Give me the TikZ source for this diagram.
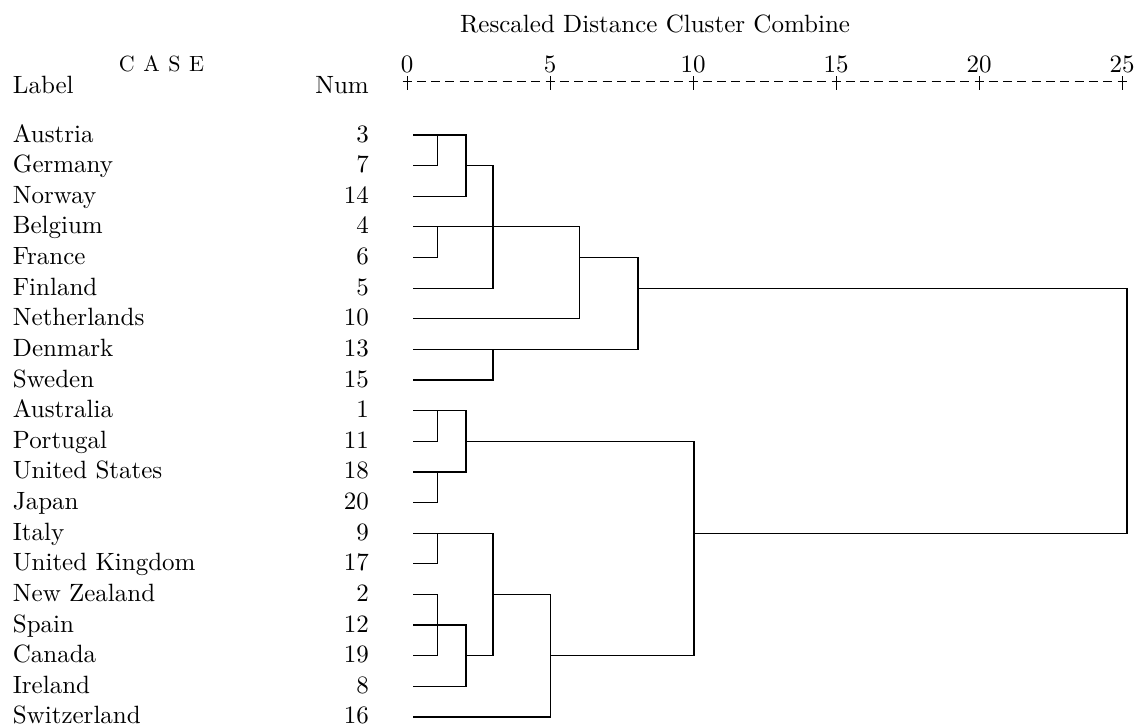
\documentclass[tikz,border=0pt]{standalone}
\usepackage{fontspec}
\setmainfont{lmroman10-regular.otf}
\usetikzlibrary{calc}
\begin{document}
\begin{tikzpicture}[x=1pt,y=-1pt,
  txt/.style={inner sep=0pt, font=\fontsize{25}{30}\selectfont},
  lbl/.style={txt, anchor=base west},
  num/.style={txt, anchor=base east},
  link/.style={line width=1.2pt, line join=miter},
  axisline/.style={line width=0.9pt},
]
\useasboundingbox (0,0) rectangle (1136,726);

% heading
\node[txt, anchor=base] (title) at (655,32) {Rescaled Distance Cluster Combine};
\node[inner sep=0pt, anchor=base, font=\fontsize{22}{26}\selectfont] (case) at (161.5,71)
  {\spaceskip=8.5pt C A S E};
\node[lbl] (hlabel) at (12.7,93) {Label};
\node[num] (hnum) at (369,93) {Num};

% distance scale
\foreach \d in {0,5,...,25} {
  \coordinate (t\d) at ({407+28.6*\d},81);
  \node[txt, anchor=base] (ax\d) at ({407+28.6*\d},72) {\d};
  \draw[axisline] ($(t\d)+(0,-5)$) -- ($(t\d)+(0,9)$);
}
\draw[axisline, dash pattern=on 9pt off 5.3pt] ($(t0)+(-4.5,0)$) -- ($(t25)+(4.5,0)$);

% cases: label, number, and start of each leaf line
\foreach \name/\num [count=\i from 0] in {Austria/3, Germany/7, Norway/14, Belgium/4,
    France/6, Finland/5, Netherlands/10, Denmark/13, Sweden/15, Australia/1,
    Portugal/11, United States/18, Japan/20, Italy/9, United Kingdom/17,
    New Zealand/2, Spain/12, Canada/19, Ireland/8, Switzerland/16} {
  \node[lbl] (lab\i) at (12.7,{142+30.63*\i}) {\name};
  \node[num] (num\i) at (369,{142+30.63*\i}) {\num};
  \coordinate (r\i) at (413,{135+30.63*\i});
}

% merge distances (x positions)
\coordinate (j1) at (437.5,0);
\coordinate (j2) at (466,0);
\coordinate (j3) at (493,0);
\coordinate (j5) at (550.7,0);
\coordinate (j6) at (579.5,0);
\coordinate (j8) at (638,0);
\coordinate (j10) at (694,0);
\coordinate (j25) at (1127,0);

% upper group
\draw[link] (r0) -- (r0-|j2) -- (r2-|j2) -- (r2);
\draw[link] (r0-|j1) -- (r1-|j1) -- (r1);
\draw[link] (r1-|j2) -- (r1-|j3) -- (r5-|j3) -- (r5);
\draw[link] (r3) -- (r3-|j6) -- (r6-|j6) -- (r6);
\draw[link] (r3-|j1) -- (r4-|j1) -- (r4);
\draw[link] (r4-|j6) -- (r4-|j8) -- (r7-|j8) -- (r7);
\draw[link] (r7-|j3) -- (r8-|j3) -- (r8);

% lower group
\draw[link] (r9) -- (r9-|j2) -- (r11-|j2) -- (r11);
\draw[link] (r9-|j1) -- (r10-|j1) -- (r10);
\draw[link] (r11-|j1) -- (r12-|j1) -- (r12);
\draw[link] (r13) -- (r13-|j3) -- (r17-|j3) -- (r17-|j2);
\draw[link] (r13-|j1) -- (r14-|j1) -- (r14);
\draw[link] (r15) -- (r15-|j1) -- (r17-|j1) -- (r17);
\draw[link] (r16) -- (r16-|j2) -- (r18-|j2) -- (r18);
\draw[link] (r15-|j3) -- (r15-|j5) -- (r19-|j5) -- (r19);
\draw[link] (r10-|j2) -- (r10-|j10) -- (r17-|j10) -- (r17-|j5);

% final merge
\draw[link] (r5-|j8) -- (r5-|j25) -- (r13-|j25) -- (r13-|j10);
\end{tikzpicture}
\end{document}
